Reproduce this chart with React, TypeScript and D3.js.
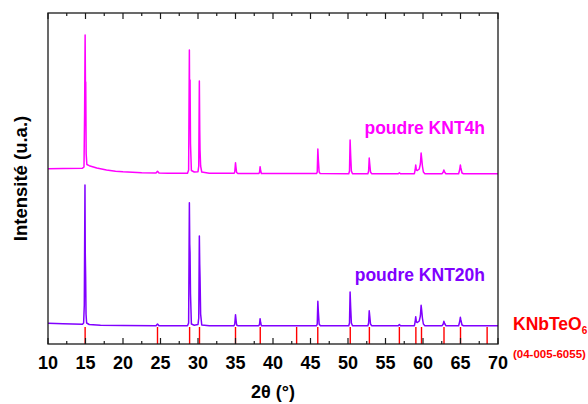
import React from "react";
import * as d3 from "d3";

// 2θ (°) vs intensity (u.a.)
const knt4h: [number, number][] = [
  [10, 175.3], [12, 175.6], [14.6, 175.8], [14.8, 177], [14.88, 230], [14.95, 309], [14.99, 262],
  [15.03, 262], [15.09, 190], [15.18, 179.5], [15.5, 178.3], [16.5, 176], [17.8, 174], [19, 172.8],
  [20, 172.2], [22.5, 171.3], [24.4, 171.1], [24.6, 172.8], [24.8, 171], [26, 170.7], [28.6, 170.8],
  [28.75, 174], [28.85, 294], [28.9, 220], [28.94, 264], [29.0, 200], [29.12, 173.5], [29.5, 172],
  [30.0, 172.3], [30.1, 178], [30.18, 263], [30.23, 215], [30.27, 194], [30.35, 178], [30.5, 172],
  [31.5, 170.7], [34.8, 170.7], [34.9, 172], [35.0, 181.3], [35.06, 177], [35.15, 171.5], [35.3, 170.6],
  [38.1, 170.6], [38.2, 171.5], [38.28, 177.3], [38.35, 173.5], [38.45, 170.5], [45.8, 170.4],
  [45.9, 172], [45.98, 195], [46.05, 184], [46.15, 172], [46.3, 170.4], [50.1, 170.3], [50.2, 173],
  [50.28, 204], [50.36, 188], [50.45, 173], [50.6, 170.3], [52.65, 170.3], [52.75, 173], [52.83, 186],
  [52.9, 180], [53.0, 172], [53.15, 170.3], [56.7, 170.3], [56.85, 171.3], [57.0, 170.3], [58.85, 170.3],
  [58.95, 174], [59.03, 179], [59.12, 174], [59.25, 173.5], [59.5, 175], [59.65, 180], [59.75, 191],
  [59.82, 186], [59.92, 178], [60.05, 172], [60.25, 170.3], [62.55, 170.3], [62.7, 172], [62.78, 174],
  [62.88, 172], [63.05, 170.3], [64.75, 170.3], [64.88, 174], [64.98, 179], [65.05, 176], [65.2, 171],
  [65.4, 170.3], [70, 170.3],
];

const knt20h: [number, number][] = [
  [10, 20.7], [12, 20.3], [14.6, 19.8], [14.75, 21], [14.84, 39], [14.93, 159], [14.97, 90],
  [15.02, 67], [15.07, 30], [15.15, 21], [15.5, 19.5], [17, 18.8], [20, 18.4], [24.4, 18.3],
  [24.6, 20], [24.8, 18.3], [28.6, 18.3], [28.75, 21], [28.85, 141.3], [28.9, 100], [28.94, 91.3],
  [29.0, 50], [29.12, 20], [29.5, 18.8], [30.0, 19.5], [30.1, 26], [30.18, 108], [30.23, 80],
  [30.27, 67.3], [30.35, 30], [30.5, 19], [31.5, 18.3], [34.8, 18.3], [34.9, 20], [35.0, 29.3],
  [35.06, 25], [35.15, 19], [35.3, 18.3], [38.1, 18.3], [38.2, 19.5], [38.28, 25.3], [38.35, 21.5],
  [38.45, 18.3], [45.8, 18.3], [45.9, 20], [45.98, 42.7], [46.05, 32], [46.15, 20], [46.3, 18.3],
  [50.1, 18.3], [50.2, 21], [50.28, 52], [50.36, 36], [50.45, 21], [50.6, 18.3], [52.65, 18.3],
  [52.75, 21], [52.83, 33.3], [52.9, 28], [53.0, 20], [53.15, 18.3], [56.7, 18.3], [56.85, 19.5],
  [57.0, 18.3], [58.85, 18.3], [58.95, 22], [59.03, 27.3], [59.12, 22], [59.25, 21.5], [59.5, 23],
  [59.65, 28], [59.75, 38.7], [59.82, 34], [59.92, 26], [60.05, 20], [60.25, 18.3], [62.55, 18.3],
  [62.7, 20], [62.78, 22.7], [62.88, 20.5], [63.05, 18.3], [64.75, 18.3], [64.88, 22], [64.98, 26.7],
  [65.05, 24], [65.2, 19], [65.4, 18.3], [70, 18.3],
];

// KNbTeO6 reference pattern (04-005-6055)
const refPositions = [14.95, 24.6, 28.88, 30.2, 35.0, 38.3, 43.15, 45.97, 50.3, 52.85, 56.85, 59.05, 59.8, 62.8, 65.0, 68.55];
const refLevel = 17;

const xMajorTicks = [10, 15, 20, 25, 30, 35, 40, 45, 50, 55, 60, 65, 70];
const xMinorTicks = [12.5, 17.5, 22.5, 27.5, 32.5, 37.5, 42.5, 47.5, 52.5, 57.5, 62.5, 67.5];

const seriesLabels = ["poudre KNT4h", "poudre KNT20h"];
const refLabel = "KNbTeO";
const refCode = "(04-005-6055)";

const W = 588, H = 404;
const left = 48, right = 498, top = 13, bottom = 344;
const FONT = "'Liberation Sans', Arial, sans-serif";
const C4 = "#ff00ff";
const C20 = "#8000ff";
const RED = "#ff0000";
const AX = "#1a1a1a";

export default function App() {
  const x = d3.scaleLinear().domain([10, 70]).range([left, right]);
  const y = d3.scaleLinear().domain([0, 331]).range([bottom, top]);
  const line = d3.line<[number, number]>().x((d) => x(d[0])).y((d) => y(d[1]));

  return (
    <svg width={W} height={H} style={{ position: "absolute", left: 0, top: 0, background: "#fff" }} fontFamily={FONT}>
      {/* reference sticks */}
      {refPositions.map((p) => (
        <line key={p} x1={x(p)} x2={x(p)} y1={y(0)} y2={y(refLevel)} stroke={RED} strokeWidth={1.4} />
      ))}
      <path d={line(knt4h) || ""} fill="none" stroke={C4} strokeWidth={1.5} strokeLinejoin="round" />
      <path d={line(knt20h) || ""} fill="none" stroke={C20} strokeWidth={1.5} strokeLinejoin="round" />

      {/* frame */}
      <rect x={left} y={top} width={right - left} height={bottom - top} fill="none" stroke={AX} strokeWidth={1.3} />
      {xMajorTicks.map((t) => (
        <g key={"M" + t}>
          <line x1={x(t)} x2={x(t)} y1={bottom} y2={bottom - 6} stroke={AX} strokeWidth={1.2} />
          <line x1={x(t)} x2={x(t)} y1={top} y2={top + 6} stroke={AX} strokeWidth={1.2} />
          <text x={x(t)} y={368.5} textAnchor="middle" fontSize={18} fontWeight="bold" fill="#000">{t}</text>
        </g>
      ))}
      {xMinorTicks.map((t) => (
        <g key={"m" + t}>
          <line x1={x(t)} x2={x(t)} y1={bottom} y2={bottom - 3} stroke={AX} strokeWidth={1.2} />
          <line x1={x(t)} x2={x(t)} y1={top} y2={top + 3} stroke={AX} strokeWidth={1.2} />
        </g>
      ))}

      {/* axis titles */}
      <text x={(left + right) / 2} y={398} textAnchor="middle" fontSize={18} fontWeight="bold" fill="#000">2θ (°)</text>
      <text transform={`translate(27,${(top + bottom) / 2}) rotate(-90)`} textAnchor="middle" fontSize={18.5} fontWeight="bold" fill="#000">Intensité (u.a.)</text>

      {/* series labels */}
      <text x={485} y={134} textAnchor="end" fontSize={17.5} fontWeight="bold" fill={C4}>{seriesLabels[0]}</text>
      <text x={485} y={281} textAnchor="end" fontSize={17.5} fontWeight="bold" fill={C20}>{seriesLabels[1]}</text>

      {/* reference label */}
      <text x={513} y={330} fontSize={17.5} fontWeight="bold" fill={RED}>
        {refLabel}
        <tspan fontSize={10} dy={4}>6</tspan>
      </text>
      <text x={513} y={358} fontSize={11.5} fontWeight="bold" fill={RED}>{refCode}</text>
    </svg>
  );
}
